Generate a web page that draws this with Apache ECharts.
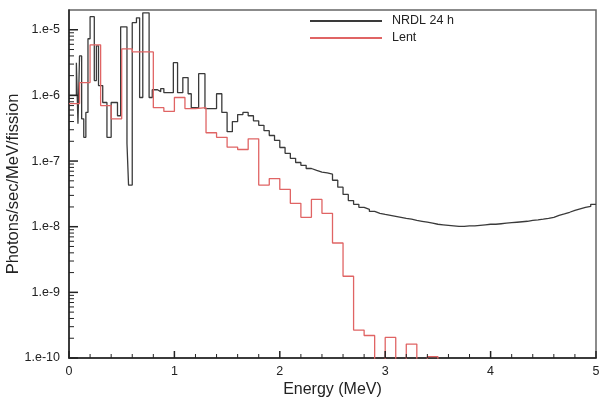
<!DOCTYPE html>
<html><head><meta charset="utf-8">
<script src="https://cdn.jsdelivr.net/npm/echarts@6/dist/echarts.min.js"></script>
<style>html,body{margin:0;padding:0;background:#fff}#c{width:600px;height:402px}</style>
</head><body><div id="c"></div>
<script>
// Bin edges (MeV) and per-bin values (photons/sec/MeV/fission)
const blackEdges = [0, 0.07, 0.085, 0.10, 0.12, 0.14, 0.16, 0.18, 0.20, 0.24, 0.26, 0.28, 0.32, 0.36, 0.40, 0.46, 0.49, 0.55, 0.565, 0.60, 0.64, 0.67, 0.70, 0.76, 0.79, 0.84, 0.87, 0.90, 0.99, 1.03, 1.08, 1.13, 1.16, 1.23, 1.29,
  1.40, 1.45, 1.50, 1.55, 1.60, 1.65, 1.70, 1.75, 1.80, 1.85, 1.90, 1.95, 2.00, 2.05, 2.10, 2.15, 2.20, 2.25, 2.30, 2.35, 2.40, 2.45,
  2.50, 2.55, 2.60, 2.65, 2.70, 2.75, 2.80, 2.85, 2.90, 2.95, 3.00, 3.05, 3.10, 3.15, 3.20, 3.25, 3.30, 3.35, 3.40, 3.45,
  3.50, 3.55, 3.60, 3.65, 3.70, 3.75, 3.80, 3.85, 3.90, 3.95, 4.00, 4.05, 4.10, 4.15, 4.20, 4.25, 4.30, 4.35, 4.40, 4.45,
  4.50, 4.55, 4.60, 4.65, 4.70, 4.75, 4.80, 4.85, 4.90, 4.95, 5.00];
const blackValues = [1.0e-6, 3.15e-6, 3.7e-7, 4.0e-6, 4.4e-7, 2.3e-7, 5.5e-7, 7.3e-6, 1.58e-5, 1.68e-6, 5.7e-6, 1.41e-6, 7.8e-7, 2.3e-7, 7.8e-7, 4.9e-7, 1.11e-5, 1.85e-7, 4.3e-8, 1.28e-5, 1.52e-5, 9.3e-7, 1.81e-5, 9.3e-7, 1.22e-6, 1.14e-6, 1.27e-6, 1.10e-6, 3.15e-6, 1.10e-6, 1.87e-6, 1.06e-6, 6.5e-7, 2.14e-6, 6.3e-7,
  1.06e-6, 5.5e-7, 2.8e-7, 4.0e-7, 5.1e-7, 5.5e-7, 4.9e-7, 4.1e-7, 3.5e-7, 2.9e-7, 2.45e-7, 2.06e-7, 1.61e-7, 1.31e-7, 1.10e-7, 9.5e-8, 8.6e-8, 7.7e-8, 7.2e-8, 6.8e-8, 6.6e-8, 6.3e-8,
  5.1e-8, 4.0e-8, 3.1e-8, 2.5e-8, 2.19e-8, 1.97e-8, 1.84e-8, 1.71e-8, 1.60e-8, 1.54e-8, 1.49e-8, 1.44e-8, 1.39e-8, 1.34e-8, 1.30e-8, 1.25e-8, 1.21e-8, 1.17e-8, 1.13e-8, 1.09e-8,
  1.07e-8, 1.05e-8, 1.03e-8, 1.01e-8, 1.01e-8, 1.03e-8, 1.03e-8, 1.05e-8, 1.07e-8, 1.09e-8, 1.09e-8, 1.11e-8, 1.13e-8, 1.15e-8, 1.17e-8, 1.19e-8, 1.21e-8, 1.25e-8, 1.27e-8, 1.30e-8,
  1.34e-8, 1.39e-8, 1.49e-8, 1.57e-8, 1.66e-8, 1.77e-8, 1.87e-8, 1.97e-8, 2.04e-8, 2.19e-8];

const redEdges = [0, 0.1, 0.2, 0.3, 0.4, 0.5, 0.6, 0.7, 0.8, 0.9, 1.0, 1.1, 1.2, 1.3, 1.4, 1.5, 1.6, 1.7, 1.8, 1.9,
  2.0, 2.1, 2.2, 2.3, 2.4, 2.5, 2.6, 2.7, 2.8, 2.9, 3.0, 3.1, 3.2, 3.3, 3.4, 3.5, 5.0];
const redValues = [7.5e-7, 1.57e-6, 5.9e-6, 7.0e-7, 4.4e-7, 5.1e-6, 4.6e-6, 4.6e-6, 6.5e-7, 5.7e-7, 9.3e-7, 6.3e-7, 6.5e-7, 2.7e-7, 2.3e-7, 1.63e-7, 1.5e-7, 2.18e-7, 4.3e-8, 5.4e-8,
  3.7e-8, 2.27e-8, 1.39e-8, 2.6e-8, 1.6e-8, 5.65e-9, 1.76e-9, 2.66e-10, 2.2e-10, 0, 2.06e-10, 0, 1.63e-10, 0, 1.05e-10, 0];

const seriesNames = ['NRDL 24 h', 'Lent'];
const xTickLabels = ['0', '1', '2', '3', '4', '5'];
const yTickLabels = {'-10': '1.e-10', '-9': '1.e-9', '-8': '1.e-8', '-7': '1.e-7', '-6': '1.e-6', '-5': '1.e-5'};

const FLOOR = 1e-13; // zero bins fall below the axis and are clipped
function histSteps(edges, vals) {
  const d = [];
  for (let i = 0; i < vals.length; i++) d.push([edges[i], vals[i] > 0 ? vals[i] : FLOOR]);
  const last = vals[vals.length - 1];
  d.push([edges[vals.length], last > 0 ? last : FLOOR]);
  return d;
}
// tick positions: [axis, value, length]
const tickMarks = [];
for (let e = -10; e <= -5; e++) {
  tickMarks.push(['y', Math.pow(10, e), 9]);
  if (e < -5) for (let m = 2; m <= 9; m++) tickMarks.push(['y', m * Math.pow(10, e), 5]);
}
for (let k = 0; k <= 25; k++) tickMarks.push(['x', k * 0.2, (k % 5 === 0) ? 7 : 4]);

const FONT = 'Liberation Sans, Arial, Helvetica, sans-serif';
const chart = echarts.init(document.getElementById('c'), null, {renderer: 'canvas'});
chart.setOption({
  animation: false,
  backgroundColor: '#fff',
  textStyle: {fontFamily: FONT},
  grid: {left: 69, right: 4, top: 10, bottom: 44, containLabel: false, outerBoundsMode: 'none',
    show: true, borderColor: '#666', borderWidth: 1.5, backgroundColor: 'transparent'},
  legend: {
    data: seriesNames, orient: 'vertical', left: 310, top: 14, padding: 0,
    itemWidth: 72, itemHeight: 2, itemGap: 3, icon: 'rect',
    textStyle: {fontSize: 12.5, fontFamily: FONT, color: '#222', padding: [0, 0, 0, 5], lineHeight: 14}
  },
  xAxis: {
    type: 'value', min: 0, max: 5, interval: 1,
    name: 'Energy (MeV)', nameLocation: 'middle', nameGap: 24, nameMoveOverlap: false,
    nameTextStyle: {fontSize: 16, fontFamily: FONT, color: '#222'},
    axisLine: {show: true, onZero: false, lineStyle: {color: '#222', width: 1.5}},
    axisTick: {show: false},
    splitLine: {show: false},
    axisLabel: {margin: 7, fontSize: 12.5, fontFamily: FONT, color: '#222',
      formatter: v => xTickLabels[Math.round(v)]}
  },
  yAxis: {
    type: 'log', logBase: 10, min: 1e-10, max: 2e-5,
    name: 'Photons/sec/MeV/fission', nameLocation: 'middle', nameGap: 47, nameMoveOverlap: false,
    nameTextStyle: {fontSize: 16.5, fontFamily: FONT, color: '#222'},
    axisLine: {show: true, lineStyle: {color: '#222', width: 1.5}},
    axisTick: {show: false},
    splitLine: {show: false},
    axisLabel: {margin: 9, fontSize: 12.5, fontFamily: FONT, color: '#222', showMaxLabel: false,
      formatter: v => { const e = Math.log10(v); const r = Math.round(e); return Math.abs(e - r) < 1e-6 ? (yTickLabels[String(r)] || '') : ''; }}
  },
  series: [
    {name: seriesNames[0], type: 'line', step: 'end', data: histSteps(blackEdges, blackValues),
      showSymbol: false, symbol: 'none', clip: true, color: '#3a3a3a',
      lineStyle: {color: '#3a3a3a', width: 1.3}, z: 3},
    {name: seriesNames[1], type: 'line', step: 'end', data: histSteps(redEdges, redValues),
      showSymbol: false, symbol: 'none', clip: true, color: '#e06464',
      lineStyle: {color: '#e06464', width: 1.3}, z: 4},
    {name: 'ticks', type: 'custom', data: tickMarks.map(t => [t[0] === 'x' ? t[1] : 0, t[0] === 'y' ? t[1] : 1e-10, t[2], t[0] === 'x' ? 1 : 0]),
      silent: true, clip: false, z: 10,
      renderItem: (params, api) => {
        const p = api.coord([api.value(0), api.value(1)]);
        const len = api.value(2);
        const isX = api.value(3) === 1;
        const shape = isX ? {x1: p[0], y1: p[1], x2: p[0], y2: p[1] - len} : {x1: p[0], y1: p[1], x2: p[0] + len, y2: p[1]};
        return {type: 'line', shape: shape, style: {stroke: '#222', lineWidth: len > 6 ? 1.5 : 1}};
      }}
  ]
});
</script></body></html>
